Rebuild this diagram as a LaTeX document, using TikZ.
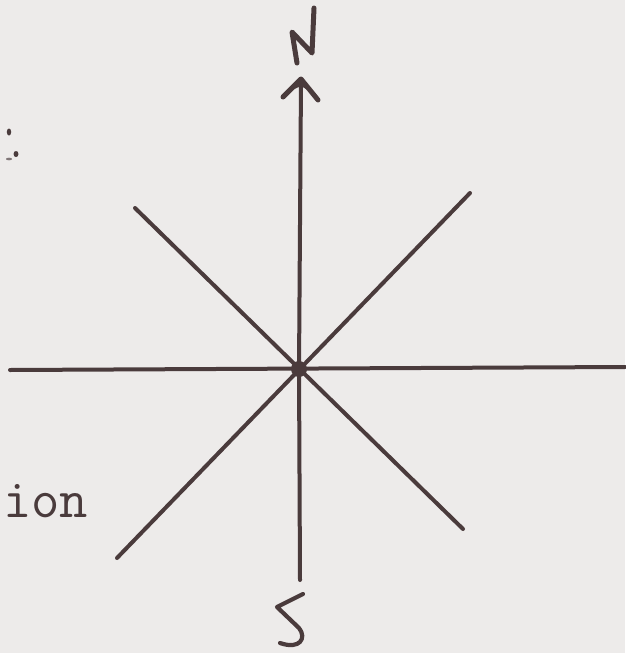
\documentclass[tikz,border=0pt]{standalone}
\usepackage{fontspec}
\definecolor{ink}{HTML}{4A3B3C}
\definecolor{paper}{HTML}{EDEBEA}
\begin{document}
\begin{tikzpicture}[x=1pt,y=-1pt,
  stroke/.style={draw=ink,line width=4pt,line cap=round,line join=round},
  hand/.style={draw=ink,line width=4.5pt,line cap=round,line join=round},
  label/.style={font=\ttfamily\fontsize{55}{55}\selectfont,text=ink,inner sep=0pt}]
\fill[paper] (0,0) rectangle (625,653);
\useasboundingbox (0,0) rectangle (625,653);
% coordinates
\coordinate (c) at (299,369);
\coordinate (n) at (301,80);
\coordinate (s) at (300,580);
\coordinate (w) at (10,370);
\coordinate (e) at (625,367);
\coordinate (nw) at (135,208);
\coordinate (ne) at (470,193);
\coordinate (sw) at (117,558);
\coordinate (se) at (463,529);
% lines
\draw[stroke] (c) -- (n);
\draw[stroke] (c) -- (s);
\draw[stroke] (w) -- (e);
\draw[stroke] (nw) -- (se);
\draw[stroke] (sw) -- (ne);
\fill[ink] (c) circle (8);
% arrow head
\draw[hand,line width=5pt] (283,97) -- (301,79) -- (318,100);
\fill[ink] (290,91) -- (301,79) -- (311,92) -- (301,86) -- cycle;
% N
\draw[hand,line width=5pt] (297,63) -- (292,32) -- (312,53) -- (314,8);
% S
\draw[hand,line width=4.2pt] (303,594) -- (277,607) -- (299,628) .. controls (307,638) and (300,650) .. (280,643);
% specks
\fill[ink] (9,132) ellipse (2.2 and 3.5);
\fill[ink] (16,154) ellipse (2.5 and 3);
\fill[ink!70] (9,159) ellipse (3 and 1.3);
% text
\node[label,anchor=base west] (ion) at (3,517) {ion};
\end{tikzpicture}
\end{document}
